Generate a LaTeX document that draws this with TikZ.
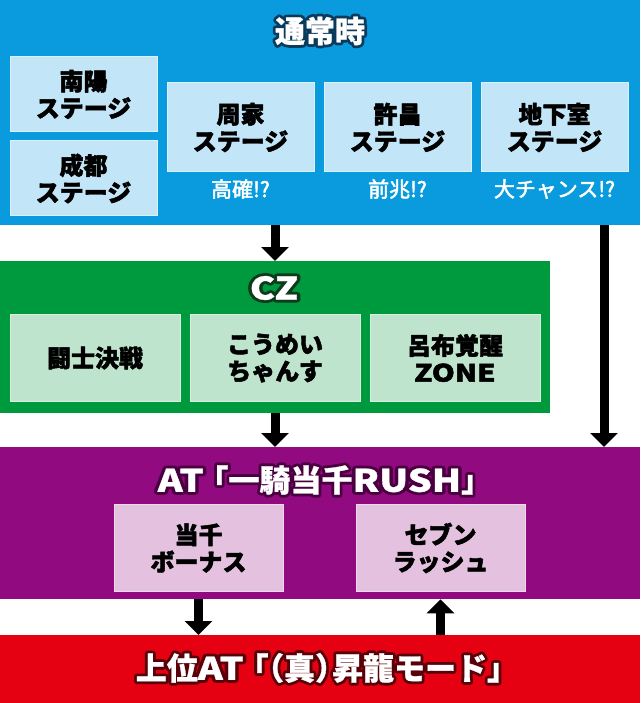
\documentclass[tikz,border=0pt]{standalone}
\usepackage{fontspec}
\setmainfont{Noto Sans CJK JP}
\usetikzlibrary{arrows.meta}
\definecolor{cblue}{HTML}{0A9BDF}
\definecolor{clblue}{HTML}{C2E6F8}
\definecolor{cgreen}{HTML}{009A3E}
\definecolor{clgreen}{HTML}{BFE4CE}
\definecolor{cpurple}{HTML}{920A80}
\definecolor{clpurple}{HTML}{E5C1E0}
\definecolor{cred}{HTML}{E50012}
\definecolor{oblue}{HTML}{0B3B5C}
\definecolor{ogreen}{HTML}{0D3B1C}
\definecolor{opurple}{HTML}{4A0040}
\definecolor{ored}{HTML}{5A0008}
\newcommand{\outlined}[2]{\makebox[0pt]{\special{pdf:code q 1 j 1 J 6 w 1 Tr}\textcolor{#1}{\bfseries #2}\special{pdf:code 0 Tr Q}}\makebox[0pt]{\special{pdf:code q 1 j 0.3 w 2 Tr}\textcolor{white}{\bfseries #2}\special{pdf:code 0 Tr Q}}}
\newcommand{\wide}[1]{\scalebox{1.22}[1]{#1}}
\newcommand{\thickon}[1]{\special{pdf:code q 1 j #1 w 2 Tr}}
\newcommand{\thickoff}{\special{pdf:code 0 Tr Q}}
\begin{document}
\begin{tikzpicture}[x=1pt,y=-1pt,
  panel/.style={inner sep=0pt, anchor=north west},
  sbox/.style={inner sep=0pt, align=center, draw=white!40!#1, line width=1pt, fill=#1,
    font=\fontsize{24}{27}\selectfont\bfseries, text=black,
    execute at begin node={\thickon{0.45}}, execute at end node={\thickoff}},
  title/.style={inner sep=0pt, font=\fontsize{30}{34}\selectfont},
  note/.style={inner sep=0pt, text=white, font=\fontsize{21}{23}\selectfont,
    execute at begin node={\thickon{0.5}}, execute at end node={\thickoff}},
  arr/.style={line width=9pt, -{Triangle[width=27pt,length=14pt]}, black}]
\useasboundingbox (0,0) rectangle (640,703);
% panels
\node[panel, fill=cblue, minimum width=640pt, minimum height=225pt] (normal) at (0,0) {};
\node[panel, fill=cgreen, minimum width=550pt, minimum height=152pt] (cz) at (0,261) {};
\node[panel, fill=cpurple, minimum width=640pt, minimum height=152pt] (at) at (0,447) {};
\node[panel, fill=cred, minimum width=640pt, minimum height=68pt] (sat) at (0,635) {};
% titles
\node[title] (tnormal) at (320,31) {\outlined{oblue}{通常時}};
\node[title, font=\fontsize{31}{34}\selectfont] (tcz) at (274,288) {\outlined{ogreen}{\wide{CZ}}};
\node[title, font=\fontsize{31}{34}\selectfont] (tat) at (318,480) {\outlined{opurple}{\wide{AT}\kern-0.2em「一騎当千\wide{RUSH}」\kern-0.45em}};
\node[title, font=\fontsize{31}{34}\selectfont] (tsat) at (320,668) {\outlined{ored}{上位\wide{AT}\kern-0.2em「\kern-0.5em（真）\kern-0.45em昇龍モード」\kern-0.45em}};
% normal stage boxes
\node[sbox=clblue, minimum width=147pt, minimum height=75pt] (nanyo) at (83.5,94.5) {南陽\\ステージ};
\node[sbox=clblue, minimum width=147pt, minimum height=75pt] (seito) at (83.5,178.5) {成都\\ステージ};
\node[sbox=clblue, minimum width=147pt, minimum height=89pt] (shuka) at (240.5,127.5) {周家\\ステージ};
\node[sbox=clblue, minimum width=147pt, minimum height=89pt] (kyosho) at (397.5,127.5) {許昌\\ステージ};
\node[sbox=clblue, minimum width=147pt, minimum height=89pt] (chika) at (554.5,127.5) {地下室\\ステージ};
\node[note] (nshuka) at (240.5,189) {高確!?};
\node[note] (nkyosho) at (397.5,189) {前兆!?};
\node[note] (nchika) at (554.5,189) {大チャンス!?};
% CZ boxes
\node[sbox=clgreen, minimum width=170pt, minimum height=87pt] (toshi) at (95,358) {闘士決戦};
\node[sbox=clgreen, minimum width=170pt, minimum height=87pt] (koumei) at (275,358) {こうめい\\ちゃんす};
\node[sbox=clgreen, minimum width=170pt, minimum height=87pt] (ryofu) at (455,358) {呂布覚醒\\\wide{ZONE}};
% AT boxes
\node[sbox=clpurple, minimum width=169pt, minimum height=87pt] (tosen) at (198.5,548) {当千\\ボーナス};
\node[sbox=clpurple, minimum width=169pt, minimum height=87pt] (seven) at (440.5,548) {セブン\\ラッシュ};
% connectors
\coordinate (rx) at (604,0);
\draw[arr] (normal.south -| koumei) -- (cz.north -| koumei);
\draw[arr] (cz.south -| koumei) -- (at.north -| koumei);
\draw[arr] (normal.south -| rx) -- (at.north -| rx);
\draw[arr] (at.south -| tosen) -- (sat.north -| tosen);
\draw[arr] (sat.north -| seven) -- (at.south -| seven);
\end{tikzpicture}
\end{document}
